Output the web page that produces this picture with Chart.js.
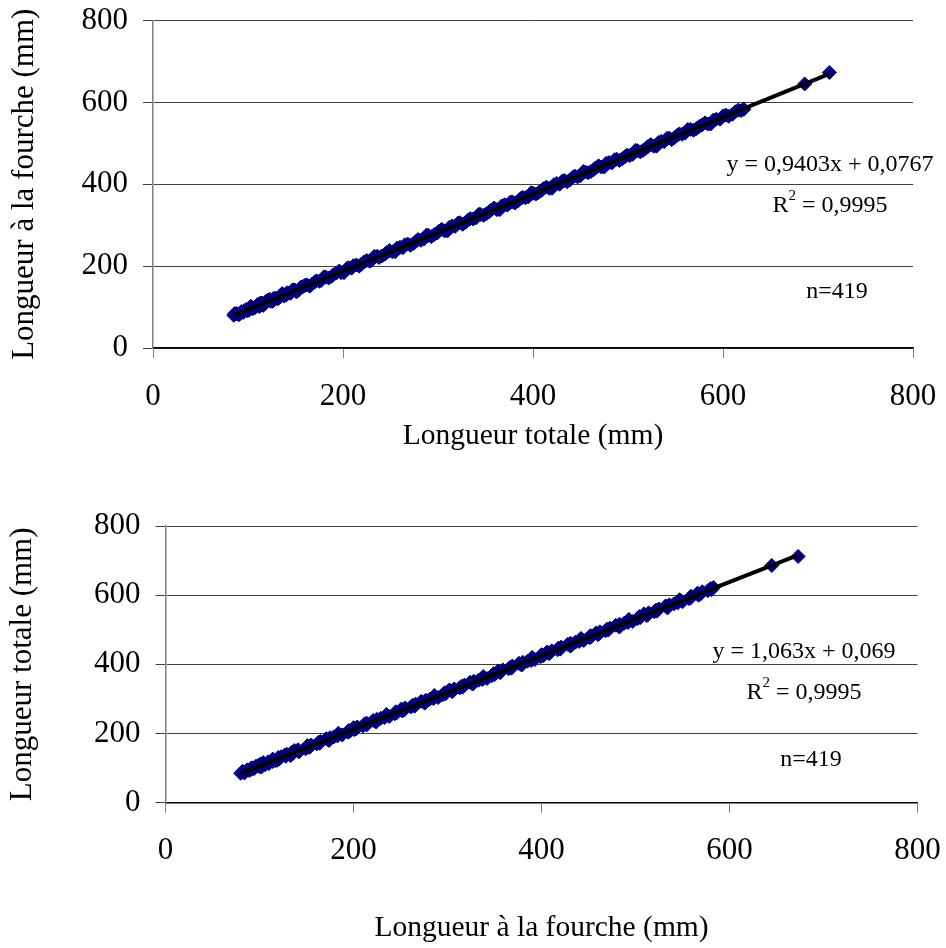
<!DOCTYPE html>
<html lang="fr">
<head>
<meta charset="utf-8">
<title>Relation longueur totale / longueur à la fourche</title>
<script src="https://cdn.jsdelivr.net/npm/chart.js@4.4.1/dist/chart.umd.min.js"></script>
<style>
    html, body { margin: 0; padding: 0; background: #fff; }
    .graph-wrap { position: absolute; left: 0; width: 946px; }
    #wrap-lt { top: 0; height: 470px; }
    #wrap-lf { top: 470px; height: 478px; }
</style>
</head>
<body>
<div class="graph-wrap" id="wrap-lt"><canvas id="chart-lt" width="946" height="470"></canvas></div>
<div class="graph-wrap" id="wrap-lf"><canvas id="chart-lf" width="946" height="478"></canvas></div>

<script>
// Mesures (mm) : même poisson à la même position dans les deux tableaux
const longueurTotale = [
    85, 88, 90, 93, 95, 98, 101, 104, 107, 110,
    112, 115, 118, 121, 124, 127, 131, 134, 138, 141,
    145, 149, 153, 158, 162, 167, 172, 177, 182, 188,
    193, 198, 204, 209, 214, 219, 225, 230, 236, 241,
    246, 252, 257, 263, 268, 274, 279, 285, 290, 296,
    301, 307, 312, 318, 323, 329, 334, 340, 345, 351,
    356, 362, 367, 373, 378, 384, 389, 395, 400, 406,
    411, 417, 422, 428, 433, 439, 444, 450, 455, 461,
    466, 472, 477, 483, 488, 494, 499, 505, 510, 516,
    521, 527, 532, 538, 543, 549, 554, 560, 566, 572,
    578, 584, 590, 597, 603, 610, 616, 622, 686, 712,
    86, 91, 96, 99, 103, 105, 109, 113, 116, 119,
    123, 126, 129, 133, 136, 140, 143, 147, 151, 156,
    160, 165, 170, 175, 180, 185, 190, 196, 201, 206,
    211, 217, 222, 228, 233, 238, 244, 249, 255, 260,
    265, 271, 277, 282, 288, 293, 299, 304, 310, 315,
    321, 326, 332, 337, 343, 348, 354, 359, 365, 370,
    376, 381, 387, 392, 398, 403, 409, 414, 420, 425,
    431, 436, 442, 447, 453, 458, 464, 469, 475, 480,
    486, 491, 497, 502, 508, 513, 519, 524, 530, 535,
    541, 546, 552, 557, 563, 569, 575, 581, 587, 593,
    600, 606, 613, 619
];
const longueurFourche = [
    80, 84, 82, 89, 87, 94, 92, 100, 98, 106,
    101, 110, 109, 117, 114, 121, 120, 128, 127, 135,
    134, 142, 141, 150, 154, 155, 164, 165, 173, 175,
    183, 184, 194, 195, 203, 204, 214, 214, 224, 225,
    233, 235, 244, 245, 254, 255, 265, 266, 275, 277,
    285, 286, 295, 297, 306, 307, 316, 318, 326, 328,
    337, 338, 347, 349, 357, 359, 368, 369, 378, 380,
    389, 390, 399, 400, 409, 411, 420, 421, 430, 431,
    440, 442, 451, 452, 461, 462, 471, 473, 482, 483,
    492, 493, 502, 504, 513, 514, 523, 525, 534, 536,
    545, 547, 557, 559, 569, 571, 581, 583, 645, 673,
    84, 82, 91, 91, 102, 96, 102, 110, 104, 114,
    119, 114, 122, 123, 133, 129, 134, 142, 137, 149,
    153, 151, 161, 163, 174, 171, 179, 188, 184, 196,
    201, 200, 210, 212, 224, 221, 229, 238, 235, 246,
    252, 251, 261, 263, 276, 272, 281, 290, 286, 298,
    305, 302, 313, 315, 327, 324, 333, 342, 338, 350,
    356, 354, 365, 367, 379, 376, 385, 393, 390, 402,
    408, 406, 417, 418, 431, 428, 436, 445, 442, 453,
    460, 458, 468, 470, 483, 479, 488, 497, 493, 505,
    512, 509, 520, 522, 534, 532, 541, 550, 547, 559,
    567, 566, 577, 580
];
const graduations = [0, 200, 400, 600, 800];

// Régressions linéaires (Excel)
const penteLfLt = 0.9403, origineLfLt = 0.0767;
const penteLtLf = 1.063, origineLtLf = 0.069;
const r2Texte = '0,9995';
const effectif = 419;

const SERIF = '"Liberation Serif", "Times New Roman", serif';

/* -------------------- équation + R² + n -------------------- */

const equationPlugin = {
    id: 'equation',
    afterDraw(chart, args, opts) {
        const ctx = chart.ctx;
        const base = `24px ${SERIF}`;
        const petit = `15px ${SERIF}`;
        ctx.save();
        ctx.fillStyle = '#000';
        ctx.textBaseline = 'alphabetic';

        ctx.font = base;
        ctx.textAlign = 'center';
        ctx.fillText(opts.texte, opts.x, opts.yEq);
        ctx.fillText('n=' + effectif, opts.xN, opts.yN);

        // R² : l'exposant est dessiné à part
        const suite = ' = ' + r2Texte;
        const wR = ctx.measureText('R').width;
        const wSuite = ctx.measureText(suite).width;
        ctx.font = petit;
        const w2 = ctx.measureText('2').width;
        let x0 = opts.x - (wR + w2 + wSuite) / 2;
        ctx.textAlign = 'left';
        ctx.font = base;
        ctx.fillText('R', x0, opts.yR2);
        ctx.font = petit;
        ctx.fillText('2', x0 + wR, opts.yR2 - 12);
        ctx.font = base;
        ctx.fillText(suite, x0 + wR + w2, opts.yR2);
        ctx.restore();
    }
};

/* -------------------- construction d'un graphique -------------------- */

function droite(xs, pente, origine) {
    const xMin = Math.min(...xs);
    const xMax = Math.max(...xs);
    return [
        { x: xMin, y: pente * xMin + origine },
        { x: xMax, y: pente * xMax + origine }
    ];
}

function makeChart(canvasId, xs, ys, pente, origine, cfg) {
    const points = xs.map((x, i) => ({ x, y: ys[i] }));
    const fixTicks = scale => { scale.ticks = graduations.map(v => ({ value: v })); };

    return new Chart(document.getElementById(canvasId), {
        type: 'scatter',
        data: {
            datasets: [
                {
                    label: 'tendance',
                    data: droite(xs, pente, origine),
                    showLine: true,
                    borderColor: '#000',
                    borderWidth: 4,
                    pointRadius: 0,
                    order: 0
                },
                {
                    label: 'mesures',
                    data: points,
                    pointStyle: 'rectRot',
                    pointRadius: 7,
                    backgroundColor: '#000080',
                    borderColor: '#000080',
                    borderWidth: 1,
                    order: 1
                }
            ]
        },
        options: {
            responsive: false,
            animation: false,
            devicePixelRatio: 1,
            layout: { padding: { top: cfg.top, right: cfg.right, left: 0, bottom: 0 } },
            plugins: {
                legend: { display: false },
                tooltip: { enabled: false },
                equation: cfg.equation
            },
            scales: {
                x: {
                    min: 0,
                    max: 800,
                    afterBuildTicks: fixTicks,
                    // taille fixe, sans la marge ajoutée pour les libellés d'extrémité
                    afterFit: scale => {
                        scale.height = cfg.xHeight;
                        scale.paddingLeft = 0;
                        scale.paddingRight = 0;
                    },
                    grid: { drawOnChartArea: false, tickLength: 10, color: '#808080', lineWidth: 1 },
                    border: { color: '#000', width: 1.5 },
                    ticks: { color: '#000', padding: 20, maxRotation: 0, font: { family: SERIF, size: 31 } },
                    title: {
                        display: true,
                        text: cfg.xTitle,
                        color: '#000',
                        padding: { top: 0, bottom: cfg.xTitlePad },
                        font: { family: SERIF, size: 29.5 }
                    }
                },
                y: {
                    min: 0,
                    max: 800,
                    afterBuildTicks: fixTicks,
                    afterFit: scale => {
                        scale.width = cfg.yWidth;
                        scale.paddingTop = 0;
                        scale.paddingBottom = 0;
                    },
                    grid: { color: '#404040', tickLength: 10, lineWidth: 1 },
                    border: { color: '#808080', width: 1.5 },
                    ticks: { color: '#000', padding: 15, font: { family: SERIF, size: 31 } },
                    title: {
                        display: true,
                        text: cfg.yTitle,
                        color: '#000',
                        padding: { top: cfg.yTitlePad, bottom: 0 },
                        font: { family: SERIF, size: 31 }
                    }
                }
            }
        },
        plugins: [equationPlugin]
    });
}

/* -------------------- LF en fonction de LT -------------------- */

makeChart('chart-lt', longueurTotale, longueurFourche, penteLfLt, origineLfLt, {
    top: 20.5,
    right: 33,
    yWidth: 153,
    xHeight: 122,
    xTitle: 'Longueur totale (mm)',
    yTitle: 'Longueur à la fourche (mm)',
    xTitlePad: 16,
    yTitlePad: 6,
    equation: { texte: 'y = 0,9403x + 0,0767', x: 830, yEq: 171, yR2: 212, xN: 837, yN: 298 }
});

/* -------------------- LT en fonction de LF -------------------- */

makeChart('chart-lf', longueurFourche, longueurTotale, penteLtLf, origineLtLf, {
    top: 56,
    right: 28.5,
    yWidth: 165.5,
    xHeight: 145.3,
    xTitle: 'Longueur à la fourche (mm)',
    yTitle: 'Longueur totale (mm)',
    xTitlePad: 2.5,
    yTitlePad: 4.5,
    equation: { texte: 'y = 1,063x + 0,069', x: 804, yEq: 187.5, yR2: 229, xN: 811, yN: 296 }
});
</script>
</body>
</html>
